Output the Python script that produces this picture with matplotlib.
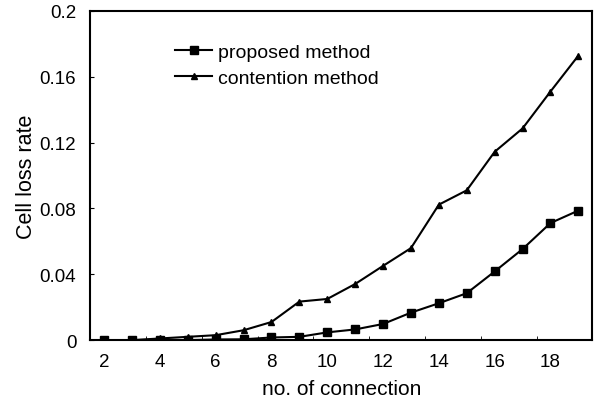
import numpy as np
import matplotlib
matplotlib.use('Agg')
import matplotlib.pyplot as plt

plt.rcParams['font.family'] = ['Liberation Sans', 'DejaVu Sans']

# Data
connections = [2, 3, 4, 5, 6, 7, 8, 9, 10, 11, 12, 13, 14, 15, 16, 17, 18, 19]
proposed = [0.0, 0.0, 0.0002, 0.0, 0.0004, 0.0005, 0.0016, 0.002, 0.0047, 0.0065,
            0.0098, 0.0167, 0.0224, 0.0285, 0.0417, 0.0553, 0.0711, 0.0787]
contention = [0.0, 0.0, 0.001, 0.002, 0.003, 0.006, 0.011, 0.0234, 0.025, 0.0341,
              0.0451, 0.0559, 0.0823, 0.091, 0.1144, 0.1286, 0.151, 0.1728]
y_ticks = [0, 0.04, 0.08, 0.12, 0.16, 0.2]
y_labels = ['0', '0.04', '0.08', '0.12', '0.16', '0.2']

fig = plt.figure(figsize=(6.05, 4.10), dpi=100)
ax = fig.add_axes([0.149, 0.168, 0.830, 0.803])

ax.plot(connections, proposed, color='black', lw=1.5, marker='s', ms=6,
        label='proposed method')
ax.plot(connections, contention, color='black', lw=1.5, marker='^', ms=5,
        label='contention method')

ax.set_xlim(1.5, 19.5)
ax.set_ylim(0, 0.2)

# category-style axis: labels on even values, tick marks between categories
ax.set_xticks(np.arange(2, 19, 2))
ax.set_xticks(np.arange(3.5, 19, 2), minor=True)
ax.tick_params(axis='x', which='major', length=0, pad=9, labelsize=13.5)
ax.tick_params(axis='x', which='minor', direction='in', length=3)
ax.set_yticks(y_ticks)
ax.set_yticklabels(y_labels)
ax.tick_params(axis='y', direction='in', length=3, pad=10, labelsize=13.5)

for s in ax.spines.values():
    s.set_linewidth(1.5)

ax.set_xlabel('no. of connection', fontsize=15, labelpad=7)
ax.set_ylabel('Cell loss rate', fontsize=15.5, labelpad=2)

ax.legend(loc='upper left', bbox_to_anchor=(0.135, 0.955), frameon=False,
          fontsize=14, handlelength=1.9, handletextpad=0.3, labelspacing=0.45)

fig.savefig('out.png', dpi=100)
